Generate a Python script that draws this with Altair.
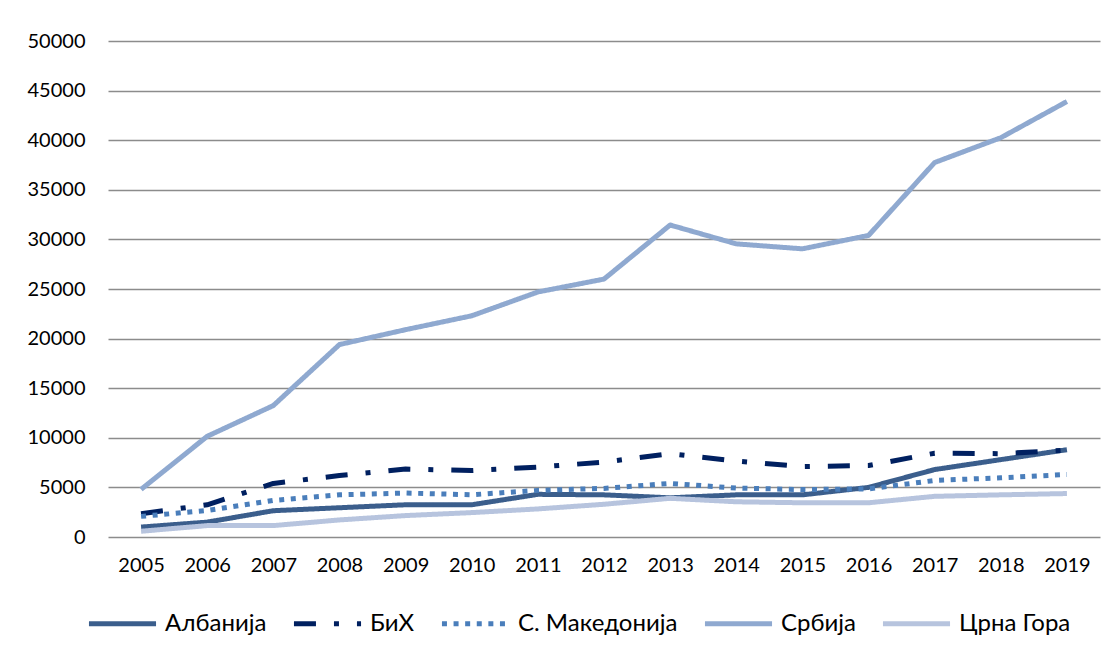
import altair as alt
import pandas as pd

years = [str(y) for y in range(2005, 2020)]
series = ["Албанија", "БиХ", "С. Македонија", "Србија", "Црна Гора"]

albania = [1000, 1500, 2650, 2950, 3250, 3250, 4300, 4250, 3950, 4250, 4250, 5000, 6800, 7800, 8800]
bih = [2350, 3250, 5400, 6200, 6850, 6700, 7050, 7550, 8400, 7650, 7100, 7200, 8450, 8400, 8750]
macedonia = [2080, 2670, 3690, 4250, 4430, 4260, 4700, 4900, 5400, 4930, 4780, 4850, 5700, 5970, 6300]
serbia = [4800, 10150, 13250, 19400, 20900, 22300, 24700, 26000, 31450, 29550, 29050, 30400, 37750, 40250, 43900]
montenegro = [580, 1150, 1150, 1720, 2160, 2460, 2830, 3300, 3900, 3550, 3450, 3450, 4100, 4250, 4380]

colors = ["#3B5E8C", "#002060", "#4A7EBB", "#8FA9D0", "#B7C4DE"]
dashes = [[1, 0], [22, 18, 5, 18], [5, 6.6], [1, 0], [1, 0]]

values = [albania, bih, macedonia, serbia, montenegro]
rows = []
for name, vals in zip(series, values):
    for yr, v in zip(years, vals):
        rows.append({"Година": yr, "Вредност": v, "Серија": name})
df = pd.DataFrame(rows)

FONT = "Lato"


def make_legend():
    return alt.Legend(title=None, orient="none", direction="horizontal",
                      legendX=-22, legendY=546,
                      symbolType="stroke", symbolSize=4500,
                      symbolStrokeWidth=5, labelFontSize=24,
                      labelFont=FONT, labelColor="#000000",
                      labelOffset=6, columnPadding=16)


chart = alt.Chart(df).mark_line(strokeWidth=5, strokeJoin="round").encode(
    x=alt.X("Година:O", sort=years,
            scale=alt.Scale(paddingOuter=0.5),
            axis=alt.Axis(title=None, labelAngle=0, ticks=False, domain=False,
                          labelPadding=18, labelFontSize=20, labelFont=FONT,
                          labelColor="#000000", grid=False)),
    y=alt.Y("Вредност:Q",
            scale=alt.Scale(domain=[0, 50000], nice=False),
            axis=alt.Axis(title=None, values=list(range(0, 50001, 5000)),
                          ticks=False, domain=False, labelPadding=23,
                          labelFontSize=20, labelFont=FONT, labelColor="#000000",
                          gridColor="#8C8C8C", gridWidth=1.5, format="d")),
    color=alt.Color("Серија:N", sort=series,
                    scale=alt.Scale(domain=series, range=colors),
                    legend=make_legend()),
    strokeDash=alt.StrokeDash("Серија:N", sort=series,
                              scale=alt.Scale(domain=series, range=dashes),
                              legend=make_legend()),
).properties(
    width=992,
    height=496,
    autosize=alt.AutoSizeParams(type="none"),
    padding={"left": 100, "top": 33, "right": 7, "bottom": 108},
).configure_view(stroke=None)

chart.save("out.html", embed_options={"renderer": "svg", "actions": False})
